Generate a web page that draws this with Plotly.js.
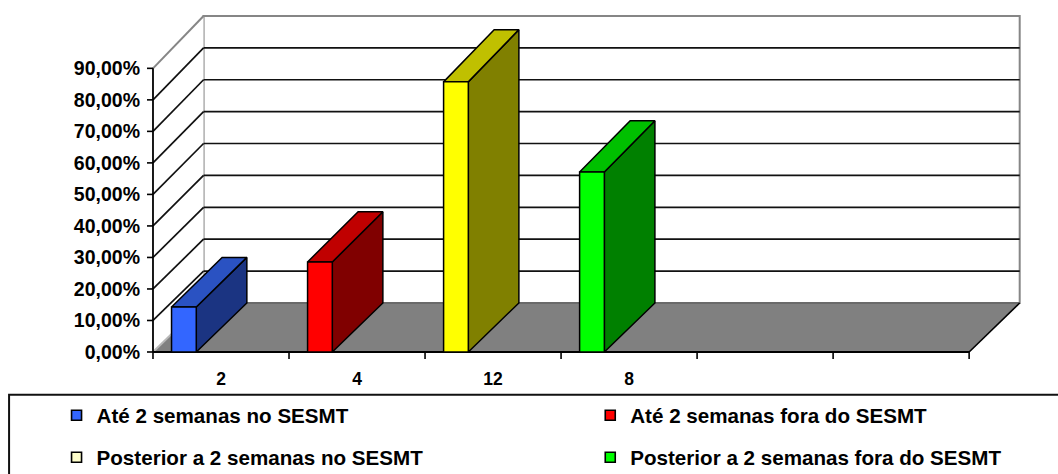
<!DOCTYPE html>
<html>
<head>
<meta charset="utf-8">
<script src="https://cdn.plot.ly/plotly-3.0.1.min.js"></script>
<style>
  html, body { margin: 0; padding: 0; background: #ffffff; }
  #chart { width: 1058px; height: 474px; }
</style>
</head>
<body>
<div id="chart"></div>
<script>
// ---- data ----
const categories = ['2', '4', '12', '8', '', ''];
const seriesNames = [
  'Até 2 semanas no SESMT',
  'Até 2 semanas fora do SESMT',
  'Posterior a 2 semanas no SESMT',
  'Posterior a 2 semanas fora do SESMT'
];
// one value (percent) per series; series i stands in category i
const seriesValues = [14.29, 28.57, 85.71, 57.14];
const yTickVals = [0, 10, 20, 30, 40, 50, 60, 70, 80, 90];
const yTickText = ['0,00%', '10,00%', '20,00%', '30,00%', '40,00%', '50,00%', '60,00%', '70,00%', '80,00%', '90,00%'];

// ---- styles ----
const FONT = 'Liberation Sans, Arial, Helvetica, sans-serif';
const seriesStyle = [
  { front: '#3366FF', top: '#2A52C2', side: '#1B3482', legend: '#3366FF' },
  { front: '#FF0000', top: '#C00000', side: '#800000', legend: '#FF0000' },
  { front: '#FFFF00', top: '#C0C000', side: '#808000', legend: '#FFFFCC' },
  { front: '#00FF00', top: '#00C000', side: '#008000', legend: '#00FF00' }
];
// legend entry positions: [left px, centre line px]
const legendSlots = [[56, 415], [590, 415], [56, 457], [590, 457]];

// ---- geometry (pixels) ----
const W = 1058, H = 474;
const X0_PX = 152.5;      // left end of the front floor edge
const CAT_PX = 136.1;     // width of one category
const BASE_PX = 351.7;    // vertical position of 0 %
const PCT_PX = 3.149;     // pixels per percent
const DEPTH_PX = 50.6;    // horizontal shift of the back plane
const DEPTH_UP_PX = 49;   // vertical shift of the back plane
const BACK_SCALE = 1.0118;
const PAD_L = 9, PAD_B = 9, TOP_PX = 8, RIGHT_PX = 1026;
const GAP_WIDTH = 1.5, SLOTS = 4;

const nCat = categories.length;
const xLeft = -0.5, xRight = nCat - 0.5;
const DX = DEPTH_PX / CAT_PX;
const DV = DEPTH_UP_PX / PCT_PX;
const yMax = yTickVals[yTickVals.length - 1];

// project a point (x, v) at depth d (0 = front, 1 = back wall)
function P(x, v, d) {
  return [x + d * DX, v + d * (v * (BACK_SCALE - 1) + DV)];
}

const margin = { l: X0_PX - PAD_L, r: W - RIGHT_PX, t: TOP_PX, b: H - (BASE_PX + PAD_B), pad: 0, autoexpand: false };
const plotW = W - margin.l - margin.r;
const plotH = H - margin.t - margin.b;
const xRange = [xLeft - PAD_L / CAT_PX, xLeft - PAD_L / CAT_PX + plotW / CAT_PX];
const yRange = [-PAD_B / PCT_PX, -PAD_B / PCT_PX + plotH / PCT_PX];
const pxX = px => (px - margin.l) / plotW;
const pxY = py => (H - margin.b - py) / plotH;

function poly(pts, fill, lineColor, lw) {
  const xs = pts.map(p => p[0]), ys = pts.map(p => p[1]);
  xs.push(pts[0][0]); ys.push(pts[0][1]);
  return {
    type: 'scatter', mode: 'lines', x: xs, y: ys,
    fill: 'toself', fillcolor: fill,
    line: { color: lineColor || fill, width: lw || 0, shape: 'linear' },
    hoverinfo: 'skip', showlegend: false
  };
}
function segs(list, color, width) {
  const xs = [], ys = [];
  list.forEach(([a, b]) => { xs.push(a[0], b[0], null); ys.push(a[1], b[1], null); });
  return {
    type: 'scatter', mode: 'lines', x: xs, y: ys,
    line: { color: color, width: width }, hoverinfo: 'skip', showlegend: false
  };
}

const traces = [];

// back wall and left wall
traces.push(poly([P(xLeft, 0, 1), P(xRight, 0, 1), P(xRight, yMax, 1), P(xLeft, yMax, 1)], '#ffffff', '#868686', 2));
traces.push(poly([P(xLeft, 0, 0), P(xLeft, yMax, 0), P(xLeft, yMax, 1), P(xLeft, 0, 1)], '#ffffff', '#ffffff', 0));

// gridlines on back and left walls
const inner = yTickVals.filter(v => v > 0 && v < yMax);
traces.push(segs(inner.map(v => [P(xLeft, v, 1), P(xRight, v, 1)]), '#111111', 1.7));
traces.push(segs(inner.map(v => [P(xLeft, v, 0), P(xLeft, v, 1)]), '#111111', 1.7));
traces.push(segs([[P(xLeft, yMax, 0), P(xLeft, yMax, 1)]], '#868686', 2));

// floor
traces.push(poly([P(xLeft, 0, 0), P(xRight, 0, 0), P(xRight, 0, 1), P(xLeft, 0, 1)], '#808080', '#808080', 0));
traces.push(segs([[P(xLeft, 0, 1), P(xRight, 0, 1)]], '#6a6a6a', 2));
traces.push(segs([[P(xLeft, 0, 0), P(xLeft, 0, 1)]], '#b8b8b8', 2));
traces.push(segs([[P(xRight, 0, 0), P(xRight, 0, 1)]], '#000000', 1.6));
traces.push(segs([[P(xLeft, 0, 0), P(xRight, 0, 0)]], '#000000', 2));

// value axis line and tick marks
traces.push(segs([[P(xLeft, 0, 0), P(xLeft, yMax, 0)]], '#000000', 1.8));
const yTickLen = 6 / CAT_PX;
traces.push(segs(yTickVals.map(v => [[xLeft - yTickLen, v], [xLeft, v]]), '#000000', 1.6));
// category boundary tick marks
const xTickLen = 7 / PCT_PX;
const bounds = [];
for (let i = 0; i <= nCat; i++) bounds.push(xLeft + i);
traces.push(segs(bounds.map(b => [[b, 0], [b, -xTickLen]]), '#000000', 1.6));

// bars
const barW = 1 / (SLOTS + GAP_WIDTH);
const barOff = barW * GAP_WIDTH / 2;
seriesValues.forEach((v, i) => {
  const st = seriesStyle[i];
  const x0 = i - 0.5 + barOff, x1 = x0 + barW;
  traces.push(poly([P(x1, 0, 0), P(x1, 0, 1), P(x1, v, 1), P(x1, v, 0)], st.side, '#000000', 1.5));
  traces.push(poly([P(x0, v, 0), P(x1, v, 0), P(x1, v, 1), P(x0, v, 1)], st.top, '#000000', 1.5));
  traces.push(poly([P(x0, 0, 0), P(x1, 0, 0), P(x1, v, 0), P(x0, v, 0)], st.front, '#000000', 1.5));
});

// legend entries, one legend box per entry
const legendIds = ['legend', 'legend2', 'legend3', 'legend4'];
seriesNames.forEach((name, i) => {
  traces.push({
    type: 'scatter', mode: 'markers', x: [null], y: [null], name: name,
    marker: { symbol: 'square', size: 10, color: seriesStyle[i].legend, line: { color: '#000000', width: 1.6 } },
    legend: legendIds[i], hoverinfo: 'skip'
  });
});

const layout = {
  width: W, height: H, autosize: false,
  margin: margin,
  paper_bgcolor: '#ffffff', plot_bgcolor: 'rgba(0,0,0,0)',
  showlegend: true,
  font: { family: FONT, color: '#000000' },
  xaxis: {
    range: xRange, fixedrange: true, showgrid: false, zeroline: false, showline: false,
    tickmode: 'array', tickvals: categories.map((c, i) => i), ticktext: categories,
    ticks: '', ticklabelstandoff: 5,
    tickfont: { family: FONT, size: 17.5, color: '#000000', weight: 700 }
  },
  yaxis: {
    range: yRange, fixedrange: true, showgrid: false, zeroline: false, showline: false,
    tickmode: 'array', tickvals: yTickVals, ticktext: yTickText,
    ticks: '', ticklabelstandoff: 3,
    tickfont: { family: FONT, size: 19.5, color: '#000000', weight: 700 }
  },
  shapes: [{
    type: 'rect', xref: 'paper', yref: 'paper',
    x0: pxX(8.5), x1: pxX(1080), y0: pxY(394.5), y1: pxY(520),
    line: { color: '#111111', width: 2 }, fillcolor: 'rgba(0,0,0,0)', layer: 'below'
  }]
};
legendIds.forEach((id, i) => {
  layout[id] = {
    orientation: 'h', xanchor: 'left', yanchor: 'middle',
    x: pxX(legendSlots[i][0]), y: pxY(legendSlots[i][1]),
    font: { family: FONT, size: 20.6, color: '#000000', weight: 700 },
    bgcolor: 'rgba(0,0,0,0)', borderwidth: 0, itemclick: false, itemdoubleclick: false
  };
});

Plotly.newPlot('chart', traces, layout, { displayModeBar: false, staticPlot: true });
</script>
</body>
</html>
